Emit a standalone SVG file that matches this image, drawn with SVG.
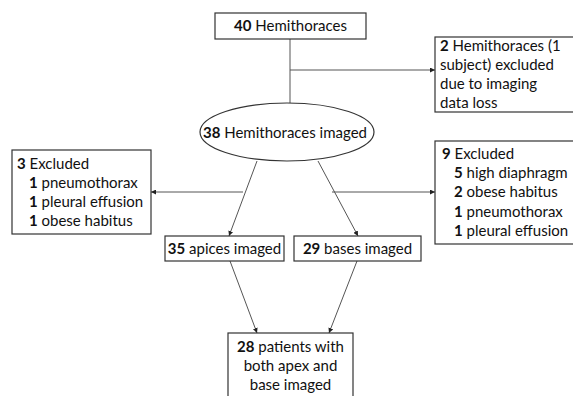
<svg xmlns="http://www.w3.org/2000/svg" width="573" height="396" viewBox="0 0 573 396">
<defs>
<marker id="ah" viewBox="0 0 10 10" refX="10" refY="5" markerWidth="5" markerHeight="5" orient="auto" markerUnits="userSpaceOnUse">
<path d="M0,0 L10,5 L0,10 z" fill="#222"/>
</marker>
<style>
.box{fill:#fff;stroke:#333;stroke-width:1.2}
.t{font-family:Lato,"Open Sans","Liberation Sans",sans-serif;font-size:15px;fill:#111}
.b{font-weight:bold}
.c{stroke:#555;stroke-width:1;fill:none}
.a{marker-end:url(#ah)}
</style>
</defs>
<rect width="573" height="396" fill="#fff"/>
<g id="connectors">
<line class="c" x1="290" y1="39" x2="290" y2="103"/>
<line class="c a" x1="290" y1="70" x2="435" y2="70"/>
<line class="c a" x1="257" y1="161" x2="229" y2="236"/>
<line class="c a" x1="243" y1="192" x2="151" y2="192"/>
<line class="c a" x1="318" y1="161" x2="358" y2="236"/>
<line class="c a" x1="332" y1="192" x2="435" y2="192"/>
<line class="c a" x1="230" y1="261" x2="257" y2="333"/>
<line class="c a" x1="357" y1="261" x2="329" y2="333"/>
</g>
<g id="n40">
<rect class="box" x="215" y="13" width="151" height="26"/>
<text class="t" x="290.5" y="31" text-anchor="middle"><tspan class="b">40</tspan> Hemithoraces</text>
</g>
<g id="nexcl2">
<rect class="box" x="435" y="37" width="145" height="75"/>
<text class="t" x="440" y="51"><tspan class="b">2</tspan> Hemithoraces (1</text>
<text class="t" x="440" y="70">subject) excluded</text>
<text class="t" x="440" y="89">due to imaging</text>
<text class="t" x="440" y="108">data loss</text>
</g>
<g id="n38">
<ellipse cx="287" cy="132" rx="87" ry="29" fill="#fff" stroke="#333" stroke-width="1.2"/>
<text class="t" x="285" y="138" text-anchor="middle"><tspan class="b">38</tspan> Hemithoraces imaged</text>
</g>
<g id="nexcl3">
<rect class="box" x="12" y="150" width="139" height="84"/>
<text class="t" x="17" y="169"><tspan class="b">3</tspan> Excluded</text>
<text class="t" x="29" y="188"><tspan class="b">1</tspan> pneumothorax</text>
<text class="t" x="29" y="207"><tspan class="b">1</tspan> pleural effusion</text>
<text class="t" x="29" y="226"><tspan class="b">1</tspan> obese habitus</text>
</g>
<g id="nexcl9">
<rect class="box" x="435" y="141" width="145" height="103"/>
<text class="t" x="442" y="159"><tspan class="b">9</tspan> Excluded</text>
<text class="t" x="454" y="178"><tspan class="b">5</tspan> high diaphragm</text>
<text class="t" x="454" y="197"><tspan class="b">2</tspan> obese habitus</text>
<text class="t" x="454" y="217"><tspan class="b">1</tspan> pneumothorax</text>
<text class="t" x="454" y="236"><tspan class="b">1</tspan> pleural effusion</text>
</g>
<g id="napex">
<rect class="box" x="165" y="236" width="119" height="25"/>
<text class="t" x="224.5" y="254" text-anchor="middle"><tspan class="b">35</tspan> apices imaged</text>
</g>
<g id="nbase">
<rect class="box" x="294" y="236" width="127" height="25"/>
<text class="t" x="357.5" y="254" text-anchor="middle"><tspan class="b">29</tspan> bases imaged</text>
</g>
<g id="n28">
<rect class="box" x="228" y="333" width="125" height="70"/>
<text class="t" x="290.5" y="352" text-anchor="middle"><tspan class="b">28</tspan> patients with</text>
<text class="t" x="290.5" y="371" text-anchor="middle">both apex and</text>
<text class="t" x="290.5" y="390" text-anchor="middle">base imaged</text>
</g>
</svg>
